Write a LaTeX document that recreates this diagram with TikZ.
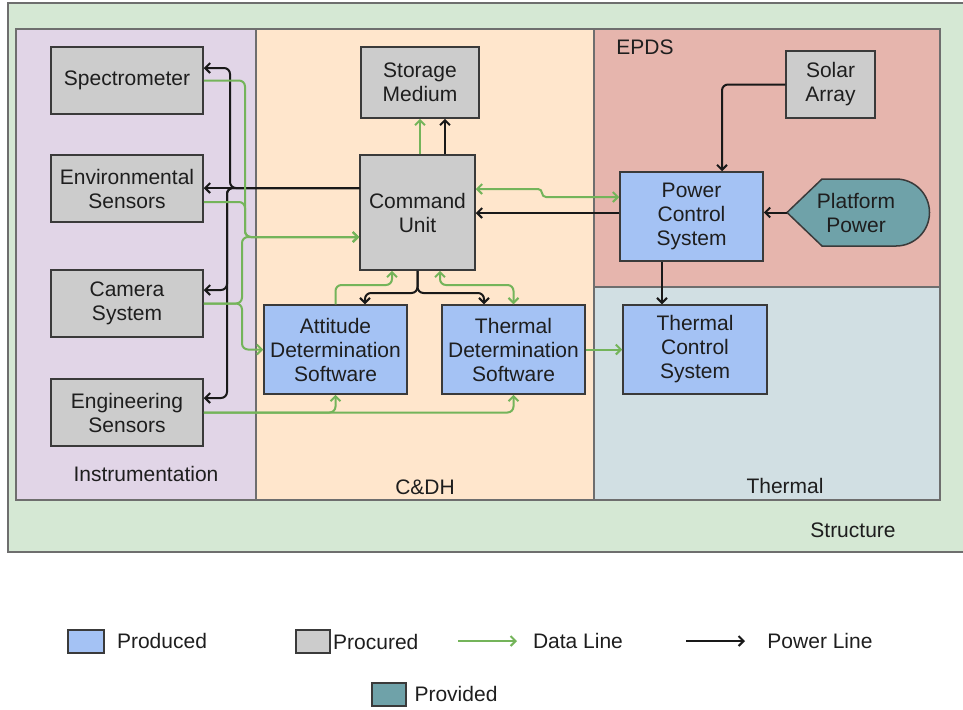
\documentclass[tikz,border=0pt]{standalone}
\usepackage{fontspec}
\setmainfont{Liberation Sans}
\usetikzlibrary{arrows.meta,calc,positioning}
\definecolor{strucgreen}{HTML}{D5E8D4}
\definecolor{instrpurple}{HTML}{E1D5E7}
\definecolor{cdhpeach}{HTML}{FFE6CC}
\definecolor{epdspink}{HTML}{E6B5AD}
\definecolor{thermgrey}{HTML}{D1DFE3}
\definecolor{prodblue}{HTML}{A4C2F4}
\definecolor{procgrey}{HTML}{CCCCCC}
\definecolor{provteal}{HTML}{6FA2A9}
\definecolor{datagreen}{HTML}{74B45A}
\definecolor{boxline}{HTML}{3A3A3A}
\definecolor{panelline}{HTML}{6E6E6E}
\definecolor{txtdark}{HTML}{1E1E1E}

\begin{document}
\begin{tikzpicture}[x=0.5pt, y=-0.5pt,
  font=\fontsize{10.5}{12}\selectfont,
  box/.style={draw=boxline, line width=0.75pt, align=center, text=txtdark, inner sep=1pt},
  procured/.style={box, fill=procgrey},
  produced/.style={box, fill=prodblue},
  instr/.style={procured, minimum width=76pt, minimum height=33.5pt},
  soft/.style={produced, minimum width=71.5pt, minimum height=44.5pt},
  panel/.style={draw=panelline, line width=0.6pt},
  lbl/.style={text=txtdark, inner sep=0pt, align=center},
  tip/.style={-{Straight Barb[length=2.5pt,width=5pt]}},
  data/.style={tip, line width=1pt, datagreen, rounded corners=3pt},
  data2/.style={data, {Straight Barb[length=2.5pt,width=5pt]}-{Straight Barb[length=2.5pt,width=5pt]}},
  pwr/.style={tip, line width=1pt, black!90, rounded corners=3pt}]
\useasboundingbox (0,0) rectangle (963,709);

% subsystem panels
\draw[panel, fill=strucgreen] (8,3) rectangle (975,552);
\draw[panel, fill=instrpurple] (16,29) rectangle (256,500);
\draw[panel, fill=cdhpeach] (256,29) rectangle (594,500);
\draw[panel, fill=epdspink] (594,29) rectangle (940,287);
\draw[panel, fill=thermgrey] (594,287) rectangle (940,500);
\node[lbl] (linstr) at (146,474) {Instrumentation};
\node[lbl] (lcdh) at (425,487) {C\&DH};
\node[lbl] (lepds) at (645,47) {EPDS};
\node[lbl] (ltherm) at (785,486) {Thermal};
\node[lbl] (lstruc) at (853,530) {Structure};

% instruments
\node[instr] (spec) at (127,80.5) {Spectrometer};
\node[instr] (env) at (127,188.5) {Environmental\\Sensors};
\node[instr] (cam) at (127,303.5) {Camera\\System};
\node[instr] (eng) at (127,412.5) {Engineering\\Sensors};

% C&DH
\node[procured, minimum width=59pt, minimum height=35.5pt] (sto) at (420,82.5) {Storage\\Medium};
\node[procured, minimum width=57.5pt, minimum height=57.5pt] (cmd) at (417.5,212.5) {Command\\Unit};
\node[soft] (att) at (335.5,349.5) {Attitude\\Determination\\Software};
\node[soft] (tds) at (513.5,349.5) {Thermal\\Determination\\Software};

% EPDS and thermal
\node[procured, minimum width=44.5pt, minimum height=33.5pt] (solar) at (830.5,84.5) {Solar\\Array};
\node[soft] (pcs) at (691.5,216.5) {Power\\Control\\System};
\node[soft, minimum width=72pt] (tcs) at (695,349.5) {Thermal\\Control\\System};
\draw[box, fill=provteal] (787,212.5) -- (822,179) -- (896,179)
  arc[start angle=90, end angle=-90, radius=16.75pt] -- (822,246) -- cycle;
\coordinate (plattip) at (787,212.5);
\node[lbl] (plat) at (856,213) {Platform\\Power};

% power lines
\draw[pwr] (cmd.west |- 0,188) -| (230,68) -- (spec.east |- 0,68);
\draw[pwr] (cmd.west |- 0,188) -- (env.east |- 0,188);
\draw[pwr] (cmd.west |- 0,188) -| (227,290) -- (cam.east |- 0,290);
\draw[pwr] (cmd.west |- 0,188) -| (227,398) -- (eng.east |- 0,398);
\draw[pwr] (cmd.north -| 445,0) -- (sto.south -| 445,0);
\draw[pwr] (cmd.south) |- (365,293) -- (att.north -| 365,0);
\draw[pwr] (cmd.south) |- (484,293) -- (tds.north -| 484,0);
\draw[pwr] (pcs.west |- 0,213) -- (cmd.east |- 0,213);
\draw[pwr] (solar.west) -| (pcs.north -| 722,0);
\draw[pwr] (plattip) -- (pcs.east |- plattip);
\draw[pwr] (pcs.south -| 662,0) -- (tcs.north -| 662,0);

% data lines
\draw[data] (spec.east) -| (245,237) -- (cmd.west |- 0,237);
\draw[data] (env.east |- 0,202) -| (245,237) -- (cmd.west |- 0,237);
\draw[data] (cam.east) -| (242,237) -- (cmd.west |- 0,237);
\draw[data] (cam.east) -| (242,349.5) -- (att.west);
\draw[data] (eng.east) -| (att.south);
\draw[data] (eng.east) -| (tds.south);
\draw[data] (att.north) |- (392,285) -- (cmd.south -| 392,0);
\draw[data2] (cmd.south -| 440,0) |- (513.5,285) -- (tds.north);
\draw[data] (cmd.north -| 420,0) -- (sto.south -| 420,0);
\draw[data2, rounded corners=2pt] (cmd.east |- 0,189) -- (542,189) |- (pcs.west |- 0,197);
\draw[data] (tds.east) -- (tcs.west);

% legend
\node[produced, minimum width=18pt, minimum height=11.5pt] (kprod) at (86,641.5) {};
\node[lbl] (tprod) at (162,641) {Produced};
\node[procured, minimum width=17pt, minimum height=11.5pt] (kproc) at (313,641.5) {};
\node[lbl, right=1pt of kproc] (tproc) {Procured};
\coordinate (kdata) at (458,641);
\coordinate (kdataend) at (517,641);
\draw[data] (kdata) -- (kdataend);
\node[lbl] (tdata) at (578,641) {Data Line};
\coordinate (kpwr) at (686,641);
\coordinate (kpwrend) at (745,641);
\draw[pwr] (kpwr) -- (kpwrend);
\node[lbl] (tpwr) at (820,641) {Power Line};
\node[box, fill=provteal, minimum width=17pt, minimum height=11.5pt] (kprov) at (389,694.5) {};
\node[lbl] (tprov) at (456,694) {Provided};
\end{tikzpicture}
\end{document}
